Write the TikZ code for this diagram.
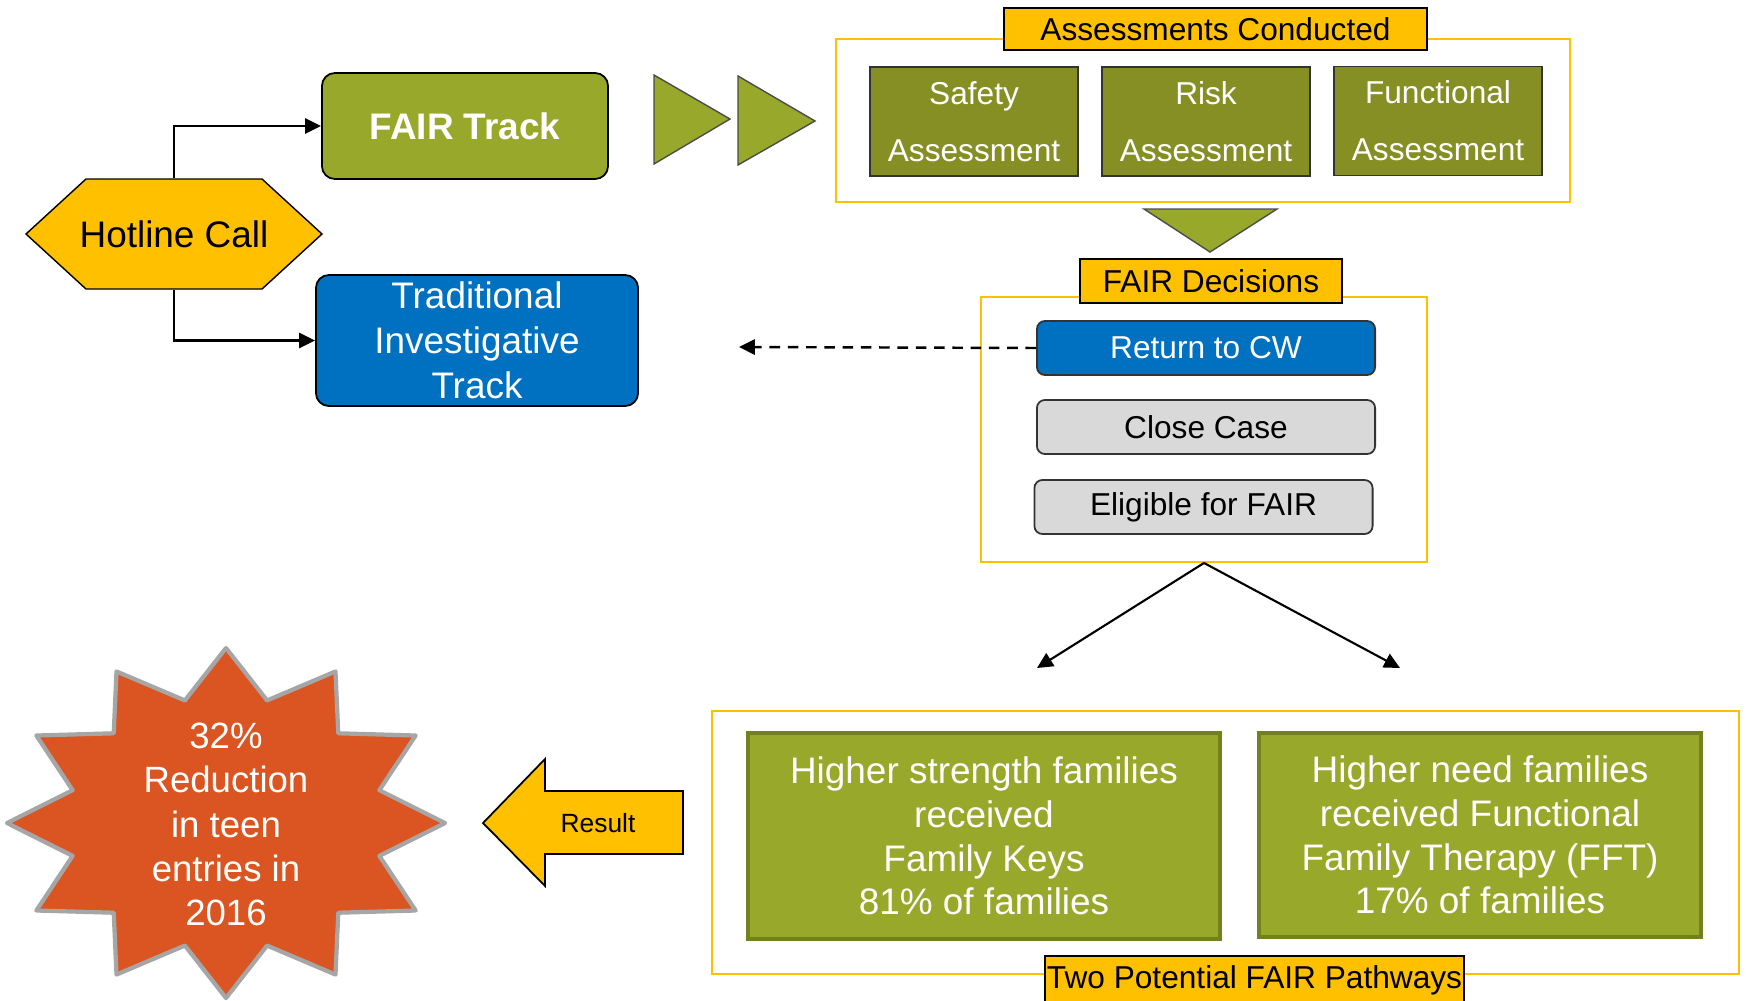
\documentclass[tikz,border=0pt]{standalone}
\usepackage{fontspec}
\setmainfont{Liberation Sans}
\usepackage{tikz}
\usetikzlibrary{arrows.meta}
\definecolor{fairyellow}{HTML}{FFC000}
\definecolor{fairgreen}{HTML}{98A82A}
\definecolor{fairdark}{HTML}{858F24}
\definecolor{fairborder}{HTML}{72801E}
\definecolor{fairblue}{HTML}{0070C0}
\definecolor{fairgray}{HTML}{D9D9D9}
\definecolor{fairorange}{HTML}{DA5521}
\definecolor{fairline}{HTML}{A6A6A6}

\begin{document}
\begin{tikzpicture}[x=0.01cm, y=-0.01cm, line width=0.6pt, >={Triangle[length=4.5pt,width=4.3pt]}]
\useasboundingbox (0,0) rectangle (1746,1000);

\filldraw[fill=fairyellow, draw=black, line width=0.4pt] (26,234) -- (86,179) -- (262,179) -- (322,234) -- (262,289) -- (86,289) -- cycle;
\node[minimum width=1.76cm, minimum height=1.1cm, inner sep=0pt, font=\fontsize{10.5}{12.6}\selectfont] (hot) at (174,234) {Hotline Call};

\begin{scope}[every node/.style={draw, rounded corners=0.13cm, inner sep=0pt, align=center, text=white, line width=0.5pt, font=\fontsize{10.5}{12.8}\selectfont}]
\node[fill=fairgreen, minimum width=2.86cm, minimum height=1.06cm, font=\fontsize{10.5}{12.8}\selectfont\bfseries] (fair) at (465,126) {FAIR Track};
\node[fill=fairblue, minimum width=3.22cm, minimum height=1.31cm] (trad) at (477,340.5) {Traditional\\Investigative\\Track};
\end{scope}

\begin{scope}[fill=fairgreen, draw=black!70, line width=0.4pt]
\filldraw (654,75) -- (730,119) -- (654,164) -- cycle;
\filldraw (738,76) -- (815,121) -- (738,165) -- cycle;
\filldraw (1144,209) -- (1277,209) -- (1210,252) -- cycle;
\end{scope}

\begin{scope}[every node/.style={draw=fairyellow, line width=0.5pt, inner sep=0pt}]
\node[minimum width=7.34cm, minimum height=1.63cm] (asmbox) at (1203,120.5) {};
\node[minimum width=4.46cm, minimum height=2.65cm] (decbox) at (1204,429.5) {};
\node[minimum width=10.27cm, minimum height=2.63cm] (pathbox) at (1225.5,842.5) {};
\end{scope}

\begin{scope}[every node/.style={draw, fill=fairyellow, line width=0.4pt, inner sep=0pt, font=\fontsize{9}{11}\selectfont}]
\node[minimum width=4.23cm, minimum height=0.42cm] (asmlbl) at (1215.5,29) {Assessments Conducted};
\node[minimum width=2.62cm, minimum height=0.44cm] (declbl) at (1211,281) {FAIR Decisions};
\node[minimum width=4.19cm, minimum height=0.48cm] (pathlbl) at (1254.5,980) {Two Potential FAIR Pathways};
\end{scope}

\begin{scope}[every node/.style={draw=black!80, fill=fairdark, text=white, line width=0.5pt, minimum width=2.08cm, minimum height=1.09cm, inner sep=0pt, align=center, font=\fontsize{9}{16.2}\selectfont}]
\node (safety) at (974,121.5) {Safety\\Assessment};
\node (risk) at (1206,121.5) {Risk\\Assessment};
\node (func) at (1438,121) {Functional\\Assessment};
\end{scope}

\begin{scope}[every node/.style={draw=black!80, rounded corners=0.08cm, line width=0.5pt, minimum width=3.38cm, minimum height=0.54cm, inner sep=0pt, font=\fontsize{9}{11}\selectfont}]
\node[fill=fairblue, text=white] (ret) at (1206,348) {Return to CW};
\node[fill=fairgray] (close) at (1206,427) {Close Case};
\node[fill=fairgray] (elig) at (1203.5,507) {Eligible for FAIR};
\end{scope}

\begin{scope}[every node/.style={draw=fairborder, line width=1.1pt, fill=fairgreen, text=white, inner sep=0pt, align=center, font=\fontsize{10.5}{12.4}\selectfont}]
\node[minimum width=4.72cm, minimum height=2.06cm] (keys) at (984,836) {Higher strength families\\received\\Family Keys\\81\% of families};
\node[minimum width=4.42cm, minimum height=2.04cm] (fft) at (1480,835) {Higher need families\\received Functional\\Family Therapy (FFT)\\17\% of families};
\end{scope}

\filldraw[fill=fairorange, draw=fairline, line width=1.2pt, line join=round, shift={(226,823)}] (0,-175)
  \foreach \i [evaluate=\i as \r using {mod(\i,2)==0 ? 1 : 0.725}] in {1,...,23} { -- ({219*\r*cos(90+15*\i)}, {-175*\r*sin(90+15*\i)}) } -- cycle;
\node[text=white, align=center, inner sep=0pt, font=\fontsize{10.4}{12.6}\selectfont] (gain) at (226,824.5) {32\%\\Reduction\\in teen\\entries in\\2016};

\filldraw[fill=fairyellow, draw=black, line width=0.5pt] (683,791) -- (545,791) -- (545,759) -- (483,823) -- (545,886) -- (545,854) -- (683,854) -- cycle;
\node[font=\fontsize{7.5}{9}\selectfont] (res) at (598,823) {Result};

\draw[->] (hot.north) |- (fair.west);
\draw[->] (hot.south) |- (trad.west);
\coordinate (back) at (739,347);
\draw[->, dash pattern=on 3pt off 2.2pt, line width=0.7pt] (ret.west) -- (back);
\coordinate (left) at (1037,668);
\coordinate (right) at (1400,668);
\draw[->] (decbox.south) -- (left);
\draw[->] (decbox.south) -- (right);
\end{tikzpicture}
\end{document}
